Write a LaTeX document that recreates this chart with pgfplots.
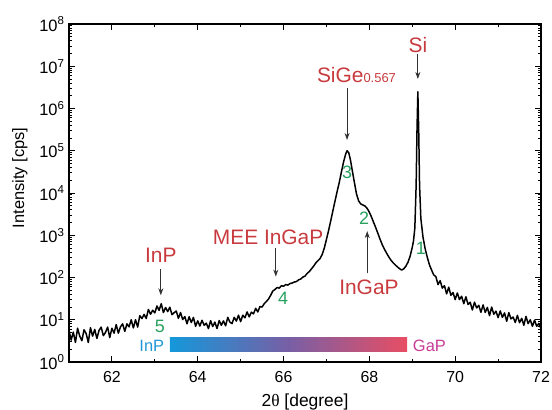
\documentclass[border=0pt]{standalone}
\usepackage{fontspec}
\setmainfont{Liberation Sans}
\newfontfamily\greekserif{Liberation Serif}
\usepackage{pgfplots}
\pgfplotsset{compat=1.18}
\usetikzlibrary{arrows.meta}
\definecolor{lblred}{RGB}{200,58,62}
\definecolor{numgreen}{RGB}{40,160,95}
\definecolor{inpblue}{RGB}{30,150,215}
\definecolor{gapmag}{RGB}{200,60,150}
\definecolor{barleft}{RGB}{20,152,218}
\definecolor{barmid}{RGB}{120,95,165}
\definecolor{barright}{RGB}{232,78,100}
\definecolor{arrowgray}{RGB}{50,50,50}

\pgfplotstableread{
x y
61.00 5.6
61.05 3.3
61.10 5.1
61.15 2.9
61.20 6.3
61.25 4.1
61.30 3.2
61.35 5.8
61.40 4.7
61.45 2.9
61.50 6.5
61.55 4.1
61.60 5.9
61.65 3.6
61.70 5.6
61.75 6.7
61.80 4.2
61.85 5.0
61.90 6.7
61.95 3.8
62.00 6.3
62.05 4.8
62.10 7.7
62.15 4.8
62.20 6.8
62.25 8.0
62.30 5.3
62.35 8.0
62.40 6.8
62.45 10.0
62.50 6.4
62.55 10.0
62.60 6.7
62.65 12.5
62.70 10.7
62.75 13.4
62.80 10.7
62.85 17.5
62.90 13.5
62.95 16.8
63.00 14.5
63.05 21.2
63.10 16.7
63.15 24.0
63.20 14.8
63.25 19.5
63.30 15.6
63.35 19.8
63.40 13.2
63.45 14.7
63.50 16.1
63.55 10.8
63.60 14.8
63.65 10.1
63.70 11.9
63.75 8.0
63.80 11.8
63.85 8.6
63.90 11.4
63.95 7.0
64.00 9.4
64.05 7.1
64.10 9.7
64.15 7.4
64.20 8.3
64.25 6.2
64.30 9.5
64.35 6.9
64.40 8.8
64.45 6.2
64.50 9.6
64.55 7.4
64.60 9.4
64.65 7.2
64.70 11.4
64.75 8.8
64.80 8.1
64.85 11.4
64.90 9.3
64.95 12.8
65.00 9.0
65.05 12.8
65.10 11.1
65.15 15.3
65.20 11.7
65.25 15.1
65.30 13.8
65.35 18.6
65.40 15.3
65.45 20.6
65.50 20
65.55 24
65.60 27
65.65 31
65.70 38
65.75 48
65.80 52
65.85 58
65.90 56
65.95 64
66.00 62
66.05 68
66.10 66
66.15 72
66.20 74
66.25 78
66.30 80
66.35 88
66.40 92
66.45 102
66.50 108
66.55 125
66.60 138
66.65 160
66.70 185
66.75 220
66.80 250
66.85 280
66.90 350
66.95 500
67.00 800
67.05 1300
67.10 2200
67.15 3800
67.20 6500
67.25 11000
67.30 18000
67.35 32000
67.40 55000
67.45 85000
67.48 100000
67.52 90000
67.56 60000
67.60 35000
67.65 18000
67.70 9500
67.75 6500
67.80 5500
67.85 5200
67.90 4900
67.95 4300
68.00 3500
68.05 2700
68.10 2000
68.15 1500
68.20 1100
68.25 800
68.30 600
68.35 470
68.40 380
68.45 310
68.50 260
68.55 225
68.60 200
68.65 180
68.70 163
68.75 150
68.80 160
68.85 185
68.90 230
68.95 320
69.00 520
69.03 750
69.06 1500
69.09 15000
69.11 300000
69.13 2500000
69.15 300000
69.17 15000
69.20 2500
69.25 900
69.30 480
69.35 300
69.40 200
69.45 150
69.50 115
69.55 105
69.60 68
69.65 84
69.70 56
69.75 64
69.80 41
69.85 59
69.90 38
69.95 44
70.00 30
70.05 43
70.10 30
70.15 36
70.20 24
70.25 35
70.30 23
70.35 26
70.40 17
70.45 26
70.50 19
70.55 22
70.60 15
70.65 22.5
70.70 14.9
70.75 19.6
70.80 12.5
70.85 20
70.90 13.5
70.95 16
71.00 11.2
71.05 16.2
71.10 11.4
71.15 14.5
71.20 9.2
71.25 14.8
71.30 10.5
71.35 11.6
71.40 8.6
71.45 12.7
71.50 8.5
71.55 10.8
71.60 7.4
71.65 12
71.70 8.1
71.75 10
71.80 7.0
71.85 9.8
71.90 7.0
71.95 8.2
72.00 6.1
}\xrd

\begin{document}
\begin{tikzpicture}
\begin{axis}[
  name=ax,
  scale only axis,
  width=472bp, height=338bp,
  xmin=61, xmax=72,
  ymode=log, ymin=1, ymax=1e8,
  xtick={62,64,66,68,70,72},
  minor xtick={61,63,65,67,69,71},
  ytick={1,10,100,1000,10000,100000,1000000,10000000,100000000},
  yticklabels={10\textsuperscript{0},10\textsuperscript{1},10\textsuperscript{2},10\textsuperscript{3},10\textsuperscript{4},10\textsuperscript{5},10\textsuperscript{6},10\textsuperscript{7},10\textsuperscript{8}},
  xticklabel style={font=\fontsize{16}{16}\selectfont, yshift=-6bp},
  yticklabel style={font=\fontsize{16.5}{16.5}\selectfont, xshift=-1bp},
  xticklabel={\pgfmathprintnumber[assume math mode=true]{\tick}},
  axis line style={line width=1.2pt},
  major tick length=6bp, minor tick length=3.5bp,
  every tick/.style={black, line width=0.9pt},
  xlabel={2{\greekserif θ} [degree]},
  ylabel={Intensity [cps]},
  xlabel style={font=\fontsize{17.5}{17.5}\selectfont, yshift=-4bp},
  ylabel style={font=\fontsize{16.5}{16.5}\selectfont, yshift=5bp, xshift=15bp},
  clip=false,
]
\addplot[black, line width=1.5pt, line join=round] table[x=x,y=y] {\xrd};

% composition bar
\shade[left color=barleft, right color=barright, middle color=barmid]
  (axis cs:63.35,1.73) rectangle (axis cs:68.88,3.7);
\node[text=inpblue, font=\fontsize{16.5}{16.5}\selectfont] at (axis cs:62.93,2.4) {InP};
\node[text=gapmag, font=\fontsize{16.5}{16.5}\selectfont] at (axis cs:69.4,2.4) {GaP};

% labels
\node[text=lblred, font=\fontsize{21}{21}\selectfont] at (axis cs:69.13,3.16e7) {Si};
\draw[arrowgray, line width=0.8pt, -{Stealth[length=7bp,width=5bp]}] (axis cs:69.13,1.9e7) -- (axis cs:69.13,5.0e6);

\node[text=lblred, font=\fontsize{21}{21}\selectfont] at (axis cs:67.7,6.2e6) {SiGe{\fontsize{13}{13}\selectfont 0.567}};
\draw[arrowgray, line width=0.8pt, -{Stealth[length=7bp,width=5bp]}] (axis cs:67.48,3.0e6) -- (axis cs:67.48,1.8e5);

\node[text=lblred, font=\fontsize{21}{21}\selectfont] at (axis cs:65.64,910) {MEE InGaP};
\draw[arrowgray, line width=0.8pt, -{Stealth[length=7bp,width=5bp]}] (axis cs:65.82,500) -- (axis cs:65.82,105);

\node[text=lblred, font=\fontsize{21}{21}\selectfont] at (axis cs:63.14,340) {InP};
\draw[arrowgray, line width=0.8pt, -{Stealth[length=7bp,width=5bp]}] (axis cs:63.14,160) -- (axis cs:63.14,38);

\node[text=lblred, font=\fontsize{21}{21}\selectfont] at (axis cs:67.99,59) {InGaP};
\draw[arrowgray, line width=0.8pt, -{Stealth[length=7bp,width=5bp]}] (axis cs:67.95,126) -- (axis cs:67.95,1250);

% peak numbers
\node[text=numgreen, font=\fontsize{18}{18}\selectfont] at (axis cs:69.2,500) {1};
\node[text=numgreen, font=\fontsize{18}{18}\selectfont] at (axis cs:67.88,2570) {2};
\node[text=numgreen, font=\fontsize{18}{18}\selectfont] at (axis cs:67.48,31600) {3};
\node[text=numgreen, font=\fontsize{18}{18}\selectfont] at (axis cs:65.99,33) {4};
\node[text=numgreen, font=\fontsize{18}{18}\selectfont] at (axis cs:63.12,6.8) {5};
\end{axis}
\pgfresetboundingbox
\path[use as bounding box] ([shift={(-69bp,-48bp)}]ax.south west) rectangle ([shift={(11bp,24bp)}]ax.north east);
\end{tikzpicture}
\end{document}
